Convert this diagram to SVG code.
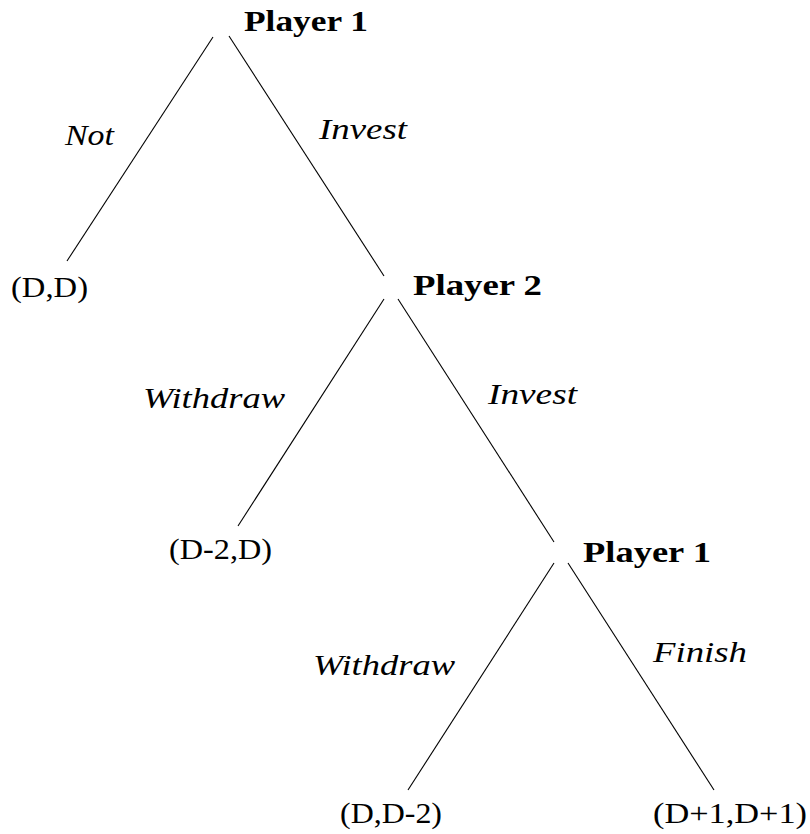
<svg xmlns="http://www.w3.org/2000/svg" width="810" height="834" viewBox="0 0 810 834">
<style>
text{font-family:"Liberation Serif","Times New Roman",serif;font-size:30px;fill:#000}
.p{font-weight:bold}
.l{font-style:italic}
line{stroke:#000;stroke-width:1.1}
</style>
<rect width="810" height="834" fill="#fff"/>
<g id="edges">
<line x1="213" y1="37" x2="67" y2="261"/>
<line x1="229" y1="36" x2="384" y2="276"/>
<line x1="384" y1="299" x2="238" y2="526"/>
<line x1="398" y1="299" x2="554" y2="542"/>
<line x1="554" y1="563" x2="408" y2="790"/>
<line x1="568" y1="563" x2="714" y2="790"/>
<text class="l" x="65" y="145" textLength="49" lengthAdjust="spacingAndGlyphs">Not</text>
<text class="l" x="319" y="139" textLength="88" lengthAdjust="spacingAndGlyphs">Invest</text>
<text class="l" x="143" y="408" textLength="142" lengthAdjust="spacingAndGlyphs">Withdraw</text>
<text class="l" x="488" y="404" textLength="89" lengthAdjust="spacingAndGlyphs">Invest</text>
<text class="l" x="313" y="675" textLength="142" lengthAdjust="spacingAndGlyphs">Withdraw</text>
<text class="l" x="653" y="662" textLength="94" lengthAdjust="spacingAndGlyphs">Finish</text>
</g>
<g id="n1"><text class="p" x="244" y="31" textLength="124" lengthAdjust="spacingAndGlyphs">Player 1</text></g>
<g id="n2"><text class="p" x="413" y="295" textLength="129" lengthAdjust="spacingAndGlyphs">Player 2</text></g>
<g id="n3"><text class="p" x="583" y="562" textLength="128" lengthAdjust="spacingAndGlyphs">Player 1</text></g>
<g id="leaf1"><text x="11" y="297" textLength="77" lengthAdjust="spacingAndGlyphs">(D,D)</text></g>
<g id="leaf2"><text x="169" y="559" textLength="103" lengthAdjust="spacingAndGlyphs">(D-2,D)</text></g>
<g id="leaf3"><text x="340" y="823" textLength="102" lengthAdjust="spacingAndGlyphs">(D,D-2)</text></g>
<g id="leaf4"><text x="653" y="823" textLength="154" lengthAdjust="spacingAndGlyphs">(D+1,D+1)</text></g>
</svg>
